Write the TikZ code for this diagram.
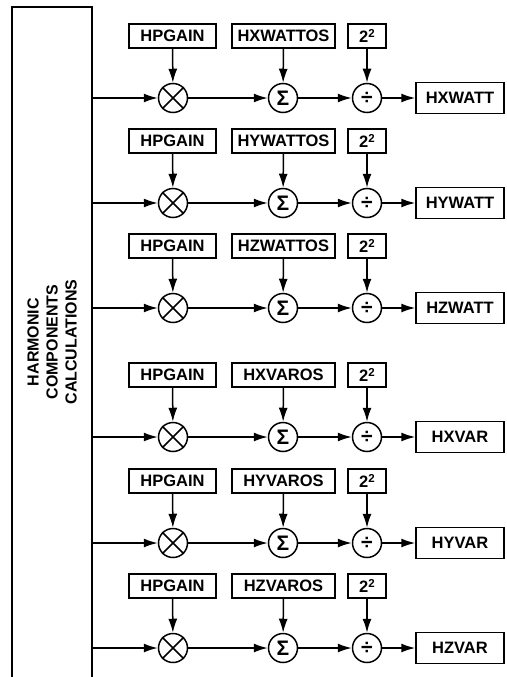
\documentclass[tikz,border=0pt]{standalone}
\usepackage{fontspec}
\setmainfont{Liberation Sans}
\usetikzlibrary{arrows.meta,positioning}

\tikzset{
  lbl/.style={font=\bfseries\fontsize{16.5}{16.5}\selectfont},
  reg/.style={lbl,draw,line width=1.5pt,inner sep=0pt,minimum height=24pt},
  outreg/.style={reg,minimum width=88pt,minimum height=31pt},
  op/.style={draw,circle,line width=1.5pt,minimum size=29pt,inner sep=0pt,
             font=\bfseries\fontsize{21}{21}\selectfont}
}

\begin{document}
\begin{tikzpicture}[x=1pt,y=-1pt,>={Latex[length=14pt,width=9pt]},line width=1.5pt]
  \useasboundingbox (0,0) rectangle (506,677);
  \draw (12,680) -- (12,7) -- (92,7) -- (92,680);
  \node[rotate=90,align=center,font=\bfseries\fontsize{16}{19}\selectfont] (calc) at (52,342)
    {HARMONIC\\COMPONENTS\\CALCULATIONS};
  \foreach \y/\os/\out/\i in {98/HXWATTOS/HXWATT/1,203/HYWATTOS/HYWATT/2,308/HZWATTOS/HZWATT/3,
                              437/HXVAROS/HXVAR/4,543/HYVAROS/HYVAR/5,648/HZVAROS/HZVAR/6}{
    \coordinate (in\i) at (92,\y);
    \node[op] (mul\i) at (173,\y) {};
    \draw (mul\i.north east) -- (mul\i.south west) (mul\i.north west) -- (mul\i.south east);
    \node[op] (sum\i) at (283,\y) {Σ};
    \node[op] (div\i) at (367,\y) {÷};
    \node[outreg] (out\i) at (460,\y) {\out};
    \node[reg,minimum width=87pt] (gain\i) at (172.5,\y-62) {HPGAIN};
    \node[reg,minimum width=103pt] (off\i) at (283.5,\y-62) {\os};
    \node[reg,minimum width=38pt] (pow\i) at (367,\y-62) {2\raisebox{5pt}{\fontsize{11.5}{11.5}\selectfont 2}};
    \draw[->] (in\i) -- (mul\i);
    \draw[->] (mul\i) -- (sum\i);
    \draw[->] (sum\i) -- (div\i);
    \draw[->] (div\i) -- (out\i);
    \draw[->] (gain\i) -- (mul\i);
    \draw[->] (off\i) -- (sum\i);
    \draw[->] (pow\i) -- (div\i);
  }
\end{tikzpicture}
\end{document}
